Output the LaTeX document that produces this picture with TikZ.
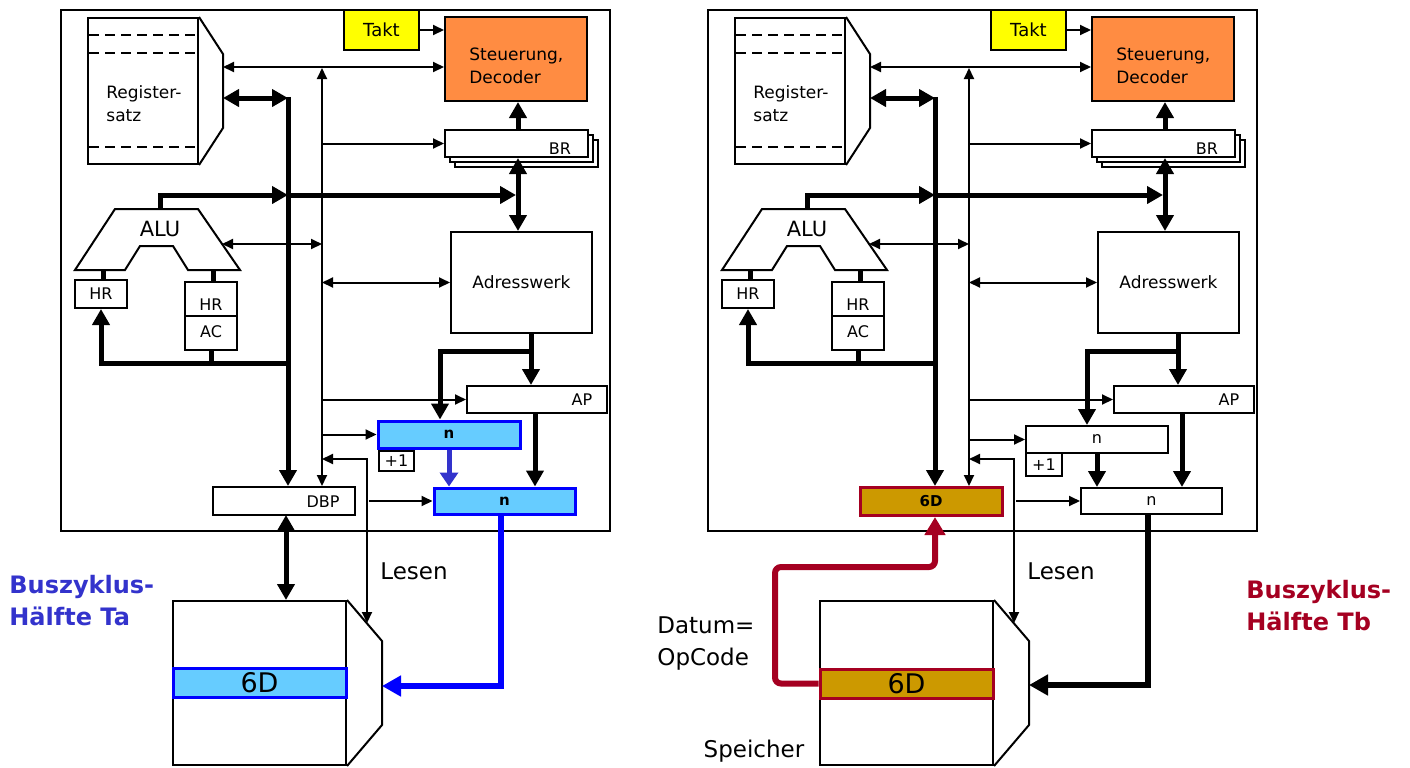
\documentclass[tikz,border=0pt]{standalone}
\usepackage{fontspec}
\setmainfont{DejaVu Sans}
\usetikzlibrary{arrows.meta}
\definecolor{taktY}{RGB}{255,255,0}
\definecolor{steuO}{RGB}{255,140,66}
\definecolor{lblue}{RGB}{102,204,255}
\definecolor{bblue}{RGB}{0,0,255}
\definecolor{tblue}{RGB}{51,51,204}
\definecolor{goldc}{RGB}{204,153,0}
\definecolor{crim}{RGB}{165,0,33}
\newcommand\fsz[2]{\fontsize{#1}{#2}\selectfont}

\tikzset{
  box/.style={draw, line width=1pt, fill=white, inner sep=0pt},
  lbl/.style={inner sep=0pt, font=\fsz{8.5}{11.5}},
  sml/.style={inner sep=0pt, font=\fsz{8}{9.5}},
  big/.style={inner sep=0pt, font=\fsz{11.5}{16}},
  thinar/.style={line width=1pt, >={Triangle[length=5.5pt,width=5pt]}},
  thickar/.style={line width=2.5pt, >={Triangle[length=8pt,width=8.5pt]}},
  bigar/.style={line width=2.75pt, >={Triangle[length=9.5pt,width=10pt]}},
}

\newcommand\cpunodes{%
  \node[draw, line width=1pt, minimum width=274.5pt, minimum height=260.5pt, inner sep=0pt] (frame) at (335.5,270.5) {};
  \node[box, minimum width=55pt, minimum height=73pt] (reg) at (143,91) {};
  \draw[line width=1pt] (reg.north east) -- (223,54) -- (223,128) -- (reg.south east);
  \foreach \yy in {35,53,147} \draw[line width=1pt, dash pattern=on 5pt off 3pt] (89,\yy) -- (197,\yy);
  \node[lbl, anchor=west, align=left] (regtxt) at (106,104) {Register-\\satz};
  \node[box, fill=taktY, minimum width=37.5pt, minimum height=20pt, inner sep=0pt, font=\fsz{9}{11}] (takt) at (381.5,30) {Takt};
  \node[box, fill=steuO, minimum width=71pt, minimum height=42pt] (steu) at (516,59) {};
  \node[lbl, anchor=west, align=left] (steutxt) at (469,66) {Steuerung,\\Decoder};
  \node[box, minimum width=71.5pt, minimum height=13.5pt] (br3) at (526.5,153.5) {};
  \node[box, minimum width=71.5pt, minimum height=13.5pt] (br2) at (521.5,148.5) {};
  \node[box, minimum width=71.5pt, minimum height=13.5pt] (br) at (516.5,143.5) {};
  \node[sml] (brtxt) at (560,149) {BR};
  \draw[line width=1pt, fill=white] (75,270) -- (115,209) -- (198,209) -- (240,270) -- (188,270) -- (173,246) -- (140,246) -- (125,270) -- cycle;
  \node[inner sep=0pt, font=\fsz{10.5}{12}] (alu) at (160,229) {ALU};
  \coordinate (alutop) at (160,209);
  \coordinate (aluR) at (222,244);
  \coordinate (aluL) at (103,270);
  \coordinate (aluR2) at (213,270);
  \node[box, minimum width=26pt, minimum height=14pt, sml] (hrl) at (101,294) {HR};
  \node[box, minimum width=26pt, minimum height=17pt] (hr2) at (211,299) {};
  \node[box, minimum width=26pt, minimum height=17pt] (ac) at (211,333) {};
  \node[sml] (hr2txt) at (211,305) {HR};
  \node[sml] (actxt) at (211,332) {AC};
  \node[box, minimum width=70.5pt, minimum height=50.5pt, lbl] (adr) at (521.5,282.5) {Adresswerk};
  \node[box, minimum width=70pt, minimum height=13.5pt] (ap) at (537,399.5) {};
  \node[sml] (aptxt) at (582,400) {AP};
  \node[box, minimum width=86.5pt, minimum height=82pt] (mem) at (259.5,683) {};
  \draw[line width=1pt] (mem.north east) -- (382,641) -- (382,725) -- (mem.south east);
  \node[big] (lesen) at (414,571) {Lesen};
}

\newcommand\cpuconn{%
  \draw[thinar,->] (takt.east) -- (steu.west |- takt.east);
  \coordinate (r67) at (223,67);
  \draw[thinar,<->] (r67) -- (steu.west |- r67);
  \coordinate (cbtop) at (322,68);
  \draw[thinar,<->] (cbtop) -- (cbtop |- dbp.north);
  \draw[thinar,->] (br.west -| cbtop) -- (br.west);
  \draw[thinar,->] (ap.west -| cbtop) -- (ap.west);
  \draw[thinar,->] (na.west -| cbtop) -- (na.west);
  \draw[thinar,<->] (aluR) -- (aluR -| cbtop);
  \draw[thinar,<->] (adr.west -| cbtop) -- (adr.west);
  \coordinate (les) at (367,459);
  \coordinate (lesm) at (367,623);
  \draw[thinar,<->] (les -| cbtop) -- (les) -- (lesm);
  \coordinate (dbpo) at (369,501);
  \draw[thinar,->] (dbpo) -- (nb.west);
  \coordinate (bus) at (288,98);
  \coordinate (bustop) at (288,96.75);
  \draw[thickar,<->] (223,98) -- (bus);
  \draw[thickar,->] (bustop) -- (bustop |- dbp.north);
  \coordinate (alubus) at (288,195);
  \draw[thickar,->] (alutop) -- (160,195) -- (alubus);
  \draw[thickar,->] (alubus) -- (516,195);
  \coordinate (brx) at (518,158);
  \draw[thickar,<->] (brx) -- (brx |- adr.north);
  \draw[thickar,->] (br.north -| brx) -- (steu.south -| brx);
  \draw[line width=2.5pt] (aluL) -- (hrl.north -| aluL);
  \draw[line width=2.5pt] (aluR2) -- (hr2.north -| aluR2);
  \coordinate (acb) at (288,363);
  \draw[thickar,->] (acb) -| (hrl.south);
  \draw[line width=2.5pt] (ac.south) -- (ac.south |- acb);
  \coordinate (adrb) at (531,333);
  \draw[thickar,->] (adrb) -- (adrb |- ap.north);
  \coordinate (brn) at (531,351);
  \coordinate (nx) at (440,351);
  \draw[thickar,->] (brn) -- (nx) -- (nx |- na.north);
  \coordinate (apx) at (535,413);
  \draw[thickar,->] (apx) -- (apx |- nb.north);
}

\begin{document}
\begin{tikzpicture}[x=0.5pt,y=-0.5pt]
\useasboundingbox (0,0) rectangle (1410,767);

% ---------------- left panel (Ta) ----------------
\begin{scope}[name prefix=L-]
  \cpunodes
  \node[draw=bblue, line width=1.5pt, fill=lblue, minimum width=71pt, minimum height=13.5pt, inner sep=0pt, font=\fsz{7.5}{9}\bfseries] (na) at (449,434.5) {n};
  \node[box, minimum width=17.5pt, minimum height=10pt, sml] (plus) at (396.5,461) {+1};
  \node[draw=bblue, line width=1.5pt, fill=lblue, minimum width=70.5pt, minimum height=13pt, inner sep=0pt, font=\fsz{7.5}{9}\bfseries] (nb) at (504.5,501) {n};
  \node[box, minimum width=71pt, minimum height=14pt] (dbp) at (284,501) {};
  \node[sml] (dbptxt) at (323,502) {DBP};
  \node[draw=bblue, line width=1.5pt, fill=lblue, minimum width=86.5pt, minimum height=14.5pt, inner sep=0pt, font=\fsz{13.5}{15}] (band) at (259.5,682.5) {6D};
  \cpuconn
  \draw[line width=2.5pt, tblue, >={Triangle[length=7pt,width=9pt]}, ->] (na.south) -- (nb.north -| na.south);
  \coordinate (dm) at (286,515);
  \draw[thickar,<->] (dm) -- (dm |- mem.north);
  \coordinate (nbo) at (501,514);
  \coordinate (mside) at (382,686);
  \draw[bigar, bblue, ->] (nbo) |- (mside);
\end{scope}

% ---------------- right panel (Tb) ----------------
\begin{scope}[shift={(647,0)}, name prefix=R-]
  \cpunodes
  \node[box, minimum width=71pt, minimum height=13.5pt, sml] (na) at (450,439.5) {n};
  \node[box, minimum width=18pt, minimum height=11.5pt, sml] (plus) at (397,464.5) {+1};
  \node[box, minimum width=70.5pt, minimum height=13pt, sml] (nb) at (504.5,501) {n};
  \node[draw=crim, line width=1.5pt, fill=goldc, minimum width=71pt, minimum height=14pt, inner sep=0pt, font=\fsz{7.5}{9}\bfseries] (dbp) at (284,501.5) {6D};
  \node[draw=crim, line width=1.5pt, fill=goldc, minimum width=86.5pt, minimum height=14.5pt, inner sep=0pt, font=\fsz{13.5}{15}] (band) at (259.5,683.5) {6D};
  \cpuconn
  \draw[thickar,->] (na.south) -- (nb.north -| na.south);
  \coordinate (rl) at (128,683.5);
  \coordinate (ru) at (128,567);
  \coordinate (rr) at (288,567);
  \draw[line width=3pt, crim, rounded corners=3pt, >={Triangle[length=9pt,width=10pt]}, ->] (band.west) -- (rl) -- (ru) -- (rr) -- (rr |- dbp.south);
  \coordinate (nbo) at (501,514);
  \coordinate (mside) at (382,685);
  \draw[bigar, ->] (nbo) |- (mside);
  \node[big, anchor=west, align=left] (datum) at (10,643) {Datum=\\OpCode};
  \node[big] (speicher) at (107,751) {Speicher};
\end{scope}

% ---------------- captions ----------------
\node[inner sep=0pt, anchor=west, align=left, text=tblue, font=\fsz{12}{16}\bfseries] (capa) at (9,601) {Buszyklus-\\Hälfte Ta};
\node[inner sep=0pt, anchor=west, align=left, text=crim, font=\fsz{12}{16}\bfseries] (capb) at (1246,606) {Buszyklus-\\Hälfte Tb};
\end{tikzpicture}
\end{document}
